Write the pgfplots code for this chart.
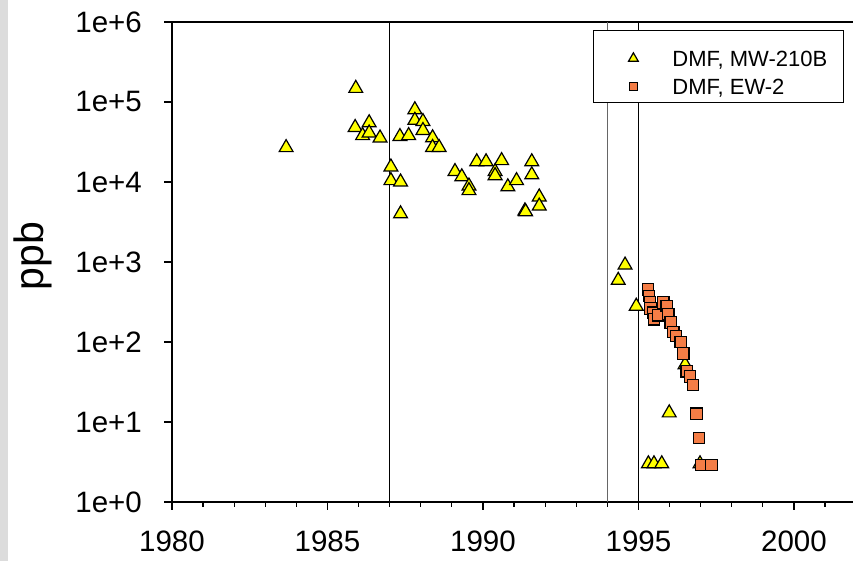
\documentclass[border=0pt]{standalone}
\usepackage{fontspec}
\setmainfont{Liberation Sans}
\usepackage{pgfplots}
\pgfplotsset{compat=1.18}
\definecolor{triY}{RGB}{255,255,0}
\definecolor{sqO}{RGB}{244,125,70}
\definecolor{bgGray}{RGB}{220,220,220}
\begin{document}
\begin{tikzpicture}
\begin{axis}[
 at={(0,0)}, anchor=south west,
 width=681bp, height=480bp, scale only axis,
 xmin=1980, xmax=2001.9, ymode=log, ymin=1, ymax=1e6,
 axis x line*=box, axis y line*=left,
 xtick pos=left,
 axis line style={line width=1.2bp, black},
 xtick={1980,1985,1990,1995,2000},
 xticklabels={1980,1985,1990,1995,2000},
 minor xtick={1981,1982,1983,1984,1986,1987,1988,1989,1991,1992,1993,1994,1996,1997,1998,1999,2001},
 ytick={1,10,100,1000,10000,100000,1000000},
 yticklabels={1e+0,1e+1,1e+2,1e+3,1e+4,1e+5,1e+6},
 yminorticks=false,
 tick align=outside,
 major tick length=8bp, minor tick length=5bp,
 every tick/.style={black, line width=1.2bp},
 ticklabel style={font=\fontsize{29.5bp}{34bp}\selectfont},
 xticklabel style={inner sep=0bp, anchor=north, yshift=-21bp},
 yticklabel style={inner sep=0bp, anchor=east, xshift=-22bp},
 ylabel={ppb},
 ylabel style={font=\fontsize{41bp}{48bp}\selectfont, at={(axis description cs:-0.204,0.512)}, anchor=center},
 clip=false,
 legend style={at={(axis description cs:0.6182,0.9833)}, anchor=north west, draw=black, line width=0.8bp,
   inner xsep=16bp, inner ysep=8bp, column sep=0bp, cells={anchor=base west},
   nodes={inner xsep=0bp, inner ysep=0bp, text height=28bp, text depth=0bp, font=\fontsize{22bp}{26bp}\selectfont}},
 legend image code/.code={\path[draw=none] (-24bp,0bp) -- (39bp,0bp); \draw[#1,/tikz/every mark/.append style={scale=0.7}] plot coordinates {(0bp,8bp)};},
]
\addplot[black, line width=0.9bp, forget plot] coordinates {(1987,1) (1987,1e6)};
\addplot[black!60, line width=0.9bp, forget plot] coordinates {(1994,1) (1994,1e6)};
\addplot[black, line width=0.9bp, forget plot] coordinates {(1995,1) (1995,1e6)};

\addplot[only marks, mark=triangle*, mark size=8bp, mark options={fill=triY, draw=black, line width=1.2bp}] table {
x y
1983.67 26900
1985.91 148000
1985.89 48000
1986.34 55000
1986.13 38000
1986.34 41000
1986.69 35500
1987.04 15400
1987.04 10400
1987.35 10000
1987.35 4000
1987.33 37000
1987.61 38000
1987.81 80000
1987.81 59000
1988.07 57000
1988.07 44000
1988.38 35700
1988.38 27000
1988.59 27000
1989.10 13500
1989.32 11600
1989.55 8900
1989.55 7800
1989.80 17900
1990.10 17900
1990.39 13500
1990.39 12000
1990.60 18500
1990.80 8700
1991.08 10400
1991.35 4350
1991.37 4250
1991.57 17900
1991.57 12300
1991.81 6500
1991.81 5000
1994.35 590
1994.57 915
1994.93 280
1996.50 52
1995.99 13
1995.32 3
1995.50 3
1995.75 3
1996.98 3
};
\addlegendentry{DMF, MW-210B}

\addplot[only marks, mark=square*, mark size=5.7bp, mark options={fill=sqO, draw=black, line width=1.2bp}] table {
x y
1995.31 457
1995.34 377
1995.37 311
1995.39 262
1995.48 233
1995.50 192
1995.64 216
1995.80 311
1995.91 282
1995.96 222
1996.04 175
1996.12 133
1996.21 119
1996.36 100
1996.44 72
1996.55 43
1996.66 37
1996.76 29
1996.87 12.7
1996.95 6.3
1997.03 2.9
1997.35 2.9
};
\addlegendentry{DMF, EW-2}
\end{axis}
\pgfresetboundingbox
\fill[bgGray] (-172bp,-59bp) rectangle (-164bp,502bp);
\useasboundingbox (-172bp,-59bp) rectangle (681bp,502bp);
\end{tikzpicture}
\end{document}
